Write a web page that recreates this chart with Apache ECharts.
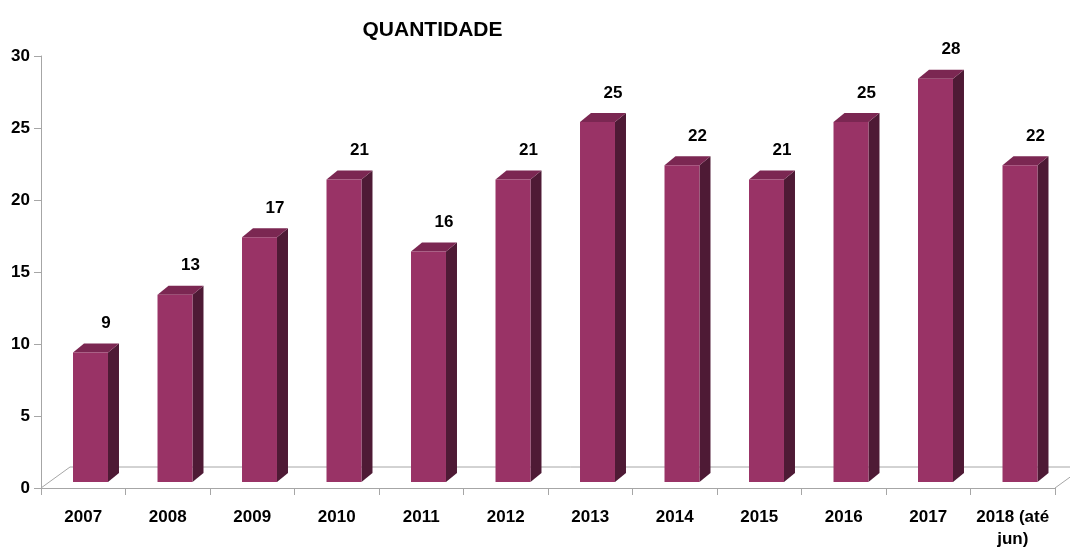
<!DOCTYPE html>
<html><head><meta charset="utf-8">
<script src="https://cdn.jsdelivr.net/npm/echarts@6/dist/echarts.min.js"></script>
<style>html,body{margin:0;padding:0;background:#fff}#c{width:1070px;height:550px}</style>
</head><body><div id="c"></div>
<script>
const categories = ['2007','2008','2009','2010','2011','2012','2013','2014','2015','2016','2017','2018 (até\njun)'];
const values = [9,13,17,21,16,21,25,22,21,25,28,22];
const yTicks = {min:0, max:30, interval:5};

const FONT = '"Liberation Sans", Arial, sans-serif';
const chart = echarts.init(document.getElementById('c'));

function barItem(params, api) {
  const idx = api.value(0), v = api.value(1);
  const top = api.coord([idx, v]);
  const base = api.coord([idx, 0]);
  const bw = api.size([1, 0])[0];
  const w = bw * 0.414;
  const ox = 7.25, oy = -6, dx = 11, dy = -9;
  const x0 = top[0] - w / 2 + ox, x1 = x0 + w;
  const yt = top[1] + oy, yb = base[1] + oy;
  return {
    type: 'group',
    children: [
      {type:'polygon', shape:{points:[[x1,yt],[x1+dx,yt+dy],[x1+dx,yb+dy],[x1,yb]]}, style:{fill:'#4e1a35'}},
      {type:'polygon', shape:{points:[[x0,yt],[x0+dx,yt+dy],[x1+dx,yt+dy],[x1,yt]]}, style:{fill:'#7b2752'}},
      {type:'rect', shape:{x:x0, y:yt, width:w, height:yb-yt}, style:{fill:'#993366'}},
      {type:'text', style:{text:String(v), x:x1-2, y:yt-29, align:'center', verticalAlign:'middle',
        font:'bold 17px ' + FONT, fill:'#000'}}
    ]
  };
}

function floorItem(params, api) {
  const n = categories.length;
  const bw = api.size([1, 0])[0];
  const l = api.coord([0, 0]); const r = api.coord([n - 1, 0]);
  const xl = l[0] - bw / 2, xr = r[0] + bw / 2, y = l[1];
  const fdx = 29, fdy = -21;
  const st = {stroke:'#a6a6a6', lineWidth:1, fill:null};
  return {
    type:'group',
    children:[
      {type:'polyline', shape:{points:[[xl,y],[xl+fdx,y+fdy],[xr+fdx,y+fdy],[xr,y]]}, style:st}
    ]
  };
}

chart.setOption({
  animation:false,
  title:{text:'QUANTIDADE', left:427.5, top:15, textAlign:'center',
    textStyle:{fontFamily:FONT, fontWeight:'bold', fontSize:21, color:'#000'}},
  grid:{left:41, right:15, top:56, bottom:60, containLabel:false},
  xAxis:{type:'category', data:categories,
    axisLine:{show:true, lineStyle:{color:'#a6a6a6'}},
    axisTick:{show:true, alignWithLabel:false, length:7, lineStyle:{color:'#a6a6a6'}},
    axisLabel:{interval:0, margin:18, fontFamily:FONT, fontWeight:'bold', fontSize:17, color:'#000', lineHeight:22},
    splitLine:{show:false}},
  yAxis:{type:'value', min:yTicks.min, max:yTicks.max, interval:yTicks.interval,
    axisLine:{show:true, lineStyle:{color:'#a6a6a6'}},
    axisTick:{show:true, length:7, lineStyle:{color:'#a6a6a6'}},
    axisLabel:{margin:11, fontFamily:FONT, fontWeight:'bold', fontSize:17, color:'#000'},
    splitLine:{show:false}},
  series:[
    {type:'custom', z:1, renderItem:floorItem, data:[[0,0]], silent:true, clip:false},
    {type:'custom', z:2, renderItem:barItem, data:values.map((v,i)=>[i,v]), clip:false}
  ]
});
</script></body></html>
